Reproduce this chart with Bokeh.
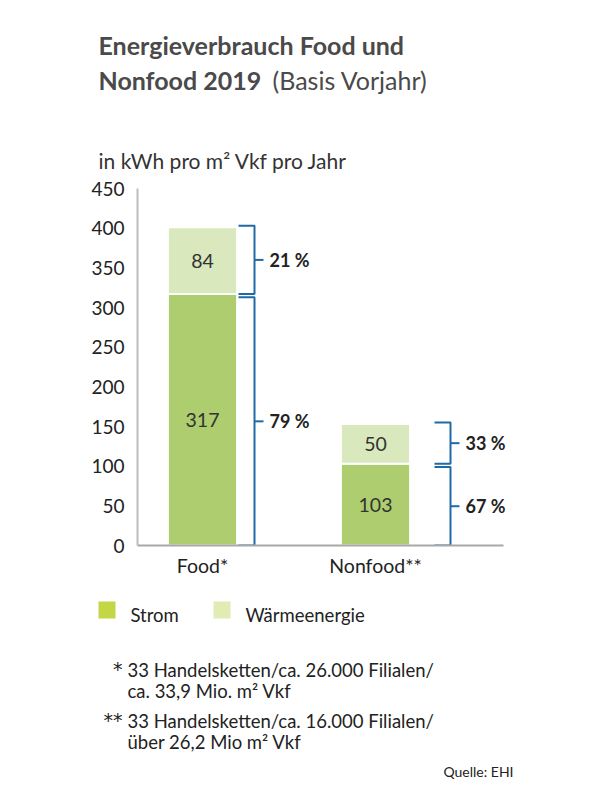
from bokeh.plotting import figure
from bokeh.layouts import column
from bokeh.models import Range1d, FixedTicker
from bokeh.core.properties import value
from bokeh.embed import file_html
from bokeh.resources import INLINE

# ---------------- data ----------------
categories = ["Food*", "Nonfood**"]
strom = [317, 103]
waerme = [84, 50]
pct_strom = [79, 67]
pct_waerme = [21, 33]
y_ticks = [0, 50, 100, 150, 200, 250, 300, 350, 400, 450]

title_1 = "Energieverbrauch Food und"
title_2a = "Nonfood 2019"
title_2b = "(Basis Vorjahr)"
subtitle = "in kWh pro m² Vkf pro Jahr"
legend_labels = ["Strom", "Wärmeenergie"]
note_marks = ["*", "**"]
note_line1 = ["33 Handelsketten/ca. 26.000 Filialen/", "33 Handelsketten/ca. 16.000 Filialen/"]
note_line2 = ["ca. 33,9 Mio. m² Vkf", "über 26,2 Mio m² Vkf"]
source_txt = "Quelle: EHI"

# ---------------- style ----------------
FONT = "Lato"
C_STROM = "#aecd6e"
C_WAERME = "#d9e8bd"
C_LEG = ["#c4d646", "#e0ecb4"]
C_BRACKET = "#1f6aa5"
C_TEXT = "#222222"
C_TITLE = "#4a4a4a"

W = 600
H_HEAD, H_MAIN = 120, 470
H_FOOT = 800 - H_HEAD - H_MAIN
FL, FR = 137, 540          # frame left / right (canvas x)
AXIS_END = 503             # x where the baseline stops
FT, FB = 188, 545          # canvas y of frame top / bottom


def blank(h):
    f = figure(width=W, height=h, output_backend="svg", toolbar_location=None,
               x_range=Range1d(0, W), y_range=Range1d(h, 0),
               x_axis_type=None, y_axis_type=None, min_border=0,
               frame_align=False)
    f.outline_line_color = None
    f.grid.visible = False
    f.background_fill_color = "white"
    f.border_fill_color = "white"
    return f


def txt(f, x, y, t, size, color=C_TEXT, style="normal", align="left",
        baseline="alphabetic", font=FONT):
    f.text(x=[x], y=[y], text=[t], text_font=value(font), text_font_size=size,
           text_font_style=style, text_color=color, text_align=align,
           text_baseline=baseline)


# ---------------- header ----------------
head = blank(H_HEAD)
txt(head, 98, 44, title_1, "25px", C_TITLE, "bold")
txt(head, 98, 79, title_2a, "25px", C_TITLE, "bold")
txt(head, 272, 79, title_2b, "25px", C_TITLE)

# ---------------- main chart ----------------
xs = [i + 1 for i in range(len(categories))]
px_per_x = 173.0
x0 = 1 - (202 - FL) / px_per_x
x1 = x0 + (FR - FL) / px_per_x
x_axis_end = x0 + (AXIS_END - FL) / px_per_x

p = figure(width=W, height=H_MAIN, output_backend="svg", toolbar_location=None,
           x_range=Range1d(x0, x1), y_range=Range1d(0, 450),
           min_border_left=FL, min_border_right=W - FR,
           min_border_top=FT - H_HEAD, min_border_bottom=H_HEAD + H_MAIN - FB,
           frame_align=False)
p.outline_line_color = None
p.xgrid.visible = False
p.ygrid.visible = False
p.background_fill_color = "white"
p.border_fill_color = "white"

# subtitle as the chart title (above the frame)
p.title.text = subtitle
p.title.align = "left"
p.title.offset = 98 - FL
p.title.standoff = 32
p.title.text_font = FONT
p.title.text_font_size = "21px"
p.title.text_font_style = "normal"
p.title.text_color = "#333333"

p.yaxis.ticker = FixedTicker(ticks=y_ticks)
p.yaxis.axis_line_color = "#bdbdbd"
p.yaxis.axis_line_width = 2
p.yaxis.major_tick_line_color = None
p.yaxis.minor_tick_line_color = None
p.yaxis.major_label_standoff = 7
p.yaxis.major_label_text_font = FONT
p.yaxis.major_label_text_font_size = "19px"
p.yaxis.major_label_text_color = C_TEXT

p.xaxis.ticker = FixedTicker(ticks=xs)
p.xaxis.bounds = (x0, x_axis_end)
p.xaxis.major_label_overrides = {x: c for x, c in zip(xs, categories)}
p.xaxis.axis_line_color = "#a8a8a8"
p.xaxis.axis_line_width = 2
p.xaxis.major_tick_line_color = None
p.xaxis.minor_tick_line_color = None
p.xaxis.major_label_standoff = 2
p.xaxis.major_label_text_font = FONT
p.xaxis.major_label_text_font_size = "19.5px"
p.xaxis.major_label_text_color = C_TEXT

top_total = [s + w for s, w in zip(strom, waerme)]
bw = 0.4
p.vbar(x=xs, bottom=0, top=strom, width=bw, fill_color=C_STROM,
       line_color="white", line_width=2)
p.vbar(x=xs, bottom=strom, top=top_total, width=bw, fill_color=C_WAERME,
       line_color="white", line_width=2)

mid_s = [s / 2 for s in strom]
mid_w = [s + w / 2 for s, w in zip(strom, waerme)]
p.text(x=xs + xs, y=mid_s + mid_w, text=[str(v) for v in strom + waerme],
       text_align="center", text_baseline="middle",
       text_font=value(FONT), text_font_size="19.5px", text_color="#333333")

offsets = [(238 - 202) / px_per_x, (434 - 375) / px_per_x]
bracket_w = 16 / px_per_x
tick_w = 9 / px_per_x
lab_gap = 6 / px_per_x
bx, by, tx, ty, lx, ly, lt = [], [], [], [], [], [], []
for i, x in enumerate(xs):
    xl = x + offsets[i]
    xv = xl + bracket_w
    for lo, hi, pc in [(0, strom[i] - 4, pct_strom[i]),
                       (strom[i], top_total[i] + 2, pct_waerme[i])]:
        bx.append([xl, xv, xv, xl])
        by.append([hi, hi, lo, lo])
        m = (lo + hi) / 2
        tx.append([xv, xv + tick_w])
        ty.append([m, m])
        lx.append(xv + tick_w + lab_gap)
        ly.append(m)
        lt.append(f"{pc} %")
p.multi_line(xs=bx, ys=by, line_color=C_BRACKET, line_width=2)
p.multi_line(xs=tx, ys=ty, line_color=C_BRACKET, line_width=2)
p.text(x=lx, y=ly, text=lt, text_align="left", text_baseline="middle",
       text_font=value(FONT), text_font_size="18px", text_font_style="bold",
       text_color=C_TEXT)

# ---------------- footer ----------------
foot = blank(H_FOOT)
Y0 = H_HEAD + H_MAIN  # canvas y of footer top
leg_x = [98, 213]
foot.quad(left=leg_x, right=[x + 17 for x in leg_x],
          top=[601 - Y0] * 2, bottom=[618 - Y0] * 2,
          fill_color=C_LEG, line_color=None)
for lxp, t in zip(leg_x, legend_labels):
    txt(foot, lxp + 32, 614 - Y0, t, "18.5px")

note_y = [669, 720]
for m, l1, l2, yb in zip(note_marks, note_line1, note_line2, note_y):
    txt(foot, 122, yb - 1 - Y0, m, "19px", align="right", font="DejaVu Sans")
    txt(foot, 127, yb - Y0, l1, "18.5px")
    txt(foot, 127, yb + 21 - Y0, l2, "18.5px")

txt(foot, 513, 771 - Y0, source_txt, "14px", align="right")

layout = column(head, p, foot, spacing=0)
open("out.html", "w").write(file_html(layout, INLINE))
